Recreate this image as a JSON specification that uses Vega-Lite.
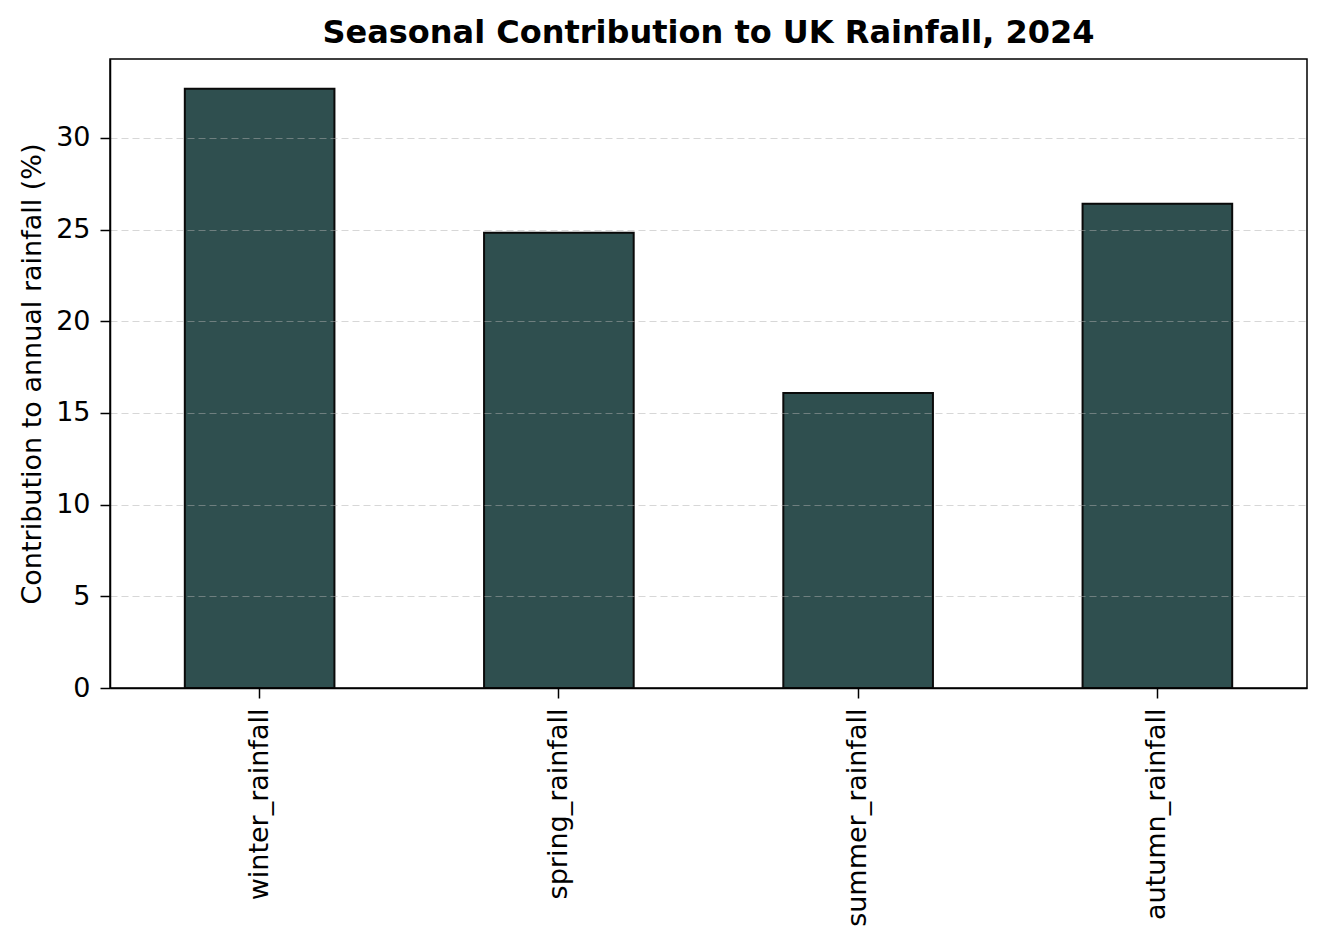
{
  "$schema": "https://vega.github.io/schema/vega-lite/v6.json",
  "autosize": "none",
  "width": 1197,
  "height": 629,
  "padding": {"left": 110, "top": 59, "right": 18, "bottom": 259},
  "background": "white",
  "title": {
    "text": "Seasonal Contribution to UK Rainfall, 2024",
    "font": "DejaVu Sans",
    "fontSize": 32,
    "fontWeight": "bold",
    "color": "black",
    "offset": 9
  },
  "config": {
    "view": {"stroke": "black", "strokeWidth": 1.5},
    "axis": {
      "labelFont": "DejaVu Sans",
      "titleFont": "DejaVu Sans",
      "labelFontSize": 27,
      "titleFontSize": 27,
      "labelColor": "black",
      "titleColor": "black",
      "titleFontWeight": "normal",
      "domainColor": "black",
      "domainWidth": 1.5,
      "tickColor": "black",
      "tickWidth": 1.5,
      "tickSize": 10,
      "labelLimit": 0
    }
  },
  "data": {
    "values": [
      {"season": "winter_rainfall", "pct": 32.68},
      {"season": "spring_rainfall", "pct": 24.82},
      {"season": "summer_rainfall", "pct": 16.09},
      {"season": "autumn_rainfall", "pct": 26.4}
    ]
  },
  "mark": {"type": "bar", "color": "#2f4f4f", "stroke": "#0a0a0a", "strokeWidth": 2},
  "encoding": {
    "x": {
      "field": "season",
      "type": "nominal",
      "sort": null,
      "title": null,
      "scale": {"paddingInner": 0.5, "paddingOuter": 0.25},
      "axis": {"labelAngle": -90, "labelPadding": 10, "grid": false, "labelBaseline": "middle", "labelAlign": "right", "zindex": 2}
    },
    "y": {
      "field": "pct",
      "type": "quantitative",
      "title": "Contribution to annual rainfall (%)",
      "scale": {"domain": [0, 34.3], "nice": false, "zero": true},
      "axis": {
        "values": [0, 5, 10, 15, 20, 25, 30],
        "grid": true,
        "gridColor": "#b0b0b0",
        "gridOpacity": 0.5,
        "gridDash": [7, 4],
        "gridWidth": 1.2,
        "zindex": 1,
        "labelPadding": 10,
        "titlePadding": 9
      }
    }
  }
}
